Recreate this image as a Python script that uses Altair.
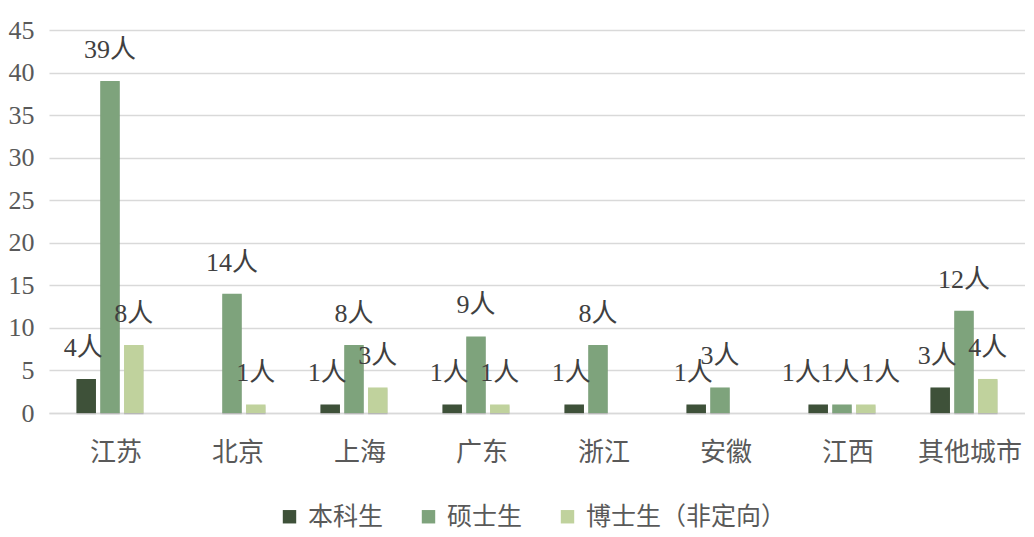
import altair as alt
import pandas as pd

cities = ["江苏", "北京", "上海", "广东", "浙江", "安徽", "江西", "其他城市"]
series = ["本科生", "硕士生", "博士生（非定向）"]
undergrad = [4, 0, 1, 1, 1, 1, 1, 3]
master = [39, 14, 8, 9, 8, 3, 1, 12]
phd = [8, 1, 3, 1, 0, 0, 1, 4]
colors = ["#3e5139", "#7ea37c", "#c0d29d"]

rows = []
for s, vals in zip(series, [undergrad, master, phd]):
    for c, v in zip(cities, vals):
        rows.append({"city": c, "series": s, "value": v, "label": f"{v}人"})
df = pd.DataFrame(rows)

FONT = "Liberation Serif, Noto Sans CJK SC"

x = alt.X("city:N", sort=cities, title=None,
          scale=alt.Scale(paddingInner=0.45, paddingOuter=0.225),
          axis=alt.Axis(labelAngle=0, ticks=False, domain=True, domainColor="#d9d9d9",
                        domainWidth=1.5, labelPadding=26, labelOffset=6))
xo = alt.XOffset("series:N", sort=series, scale=alt.Scale(paddingInner=0.18))
y = alt.Y("value:Q", title=None,
          scale=alt.Scale(domain=[0, 45], nice=False),
          axis=alt.Axis(values=list(range(0, 50, 5)), ticks=False, domain=False,
                        labelPadding=15, gridColor="#d9d9d9", gridWidth=1.5))

base = alt.Chart(df).transform_filter("datum.value > 0")

shadow1 = base.mark_bar(color="#000000", opacity=0.10, xOffset=2, yOffset=1).encode(x=x, xOffset=xo, y=y)
shadow2 = base.mark_bar(color="#000000", opacity=0.06, xOffset=4, yOffset=2).encode(x=x, xOffset=xo, y=y)

bars = base.mark_bar().encode(
    x=x, xOffset=xo, y=y,
    color=alt.Color("series:N", sort=series,
                    scale=alt.Scale(domain=series, range=colors),
                    legend=alt.Legend(title=None, orient="none", direction="horizontal",
                                      legendX=228, legendY=474,
                                      symbolType="square", symbolSize=180, symbolStrokeWidth=0,
                                      labelFontSize=25, labelFont=FONT, labelColor="#595959",
                                      labelLimit=0, columnPadding=32, labelOffset=6)),
)


def label_layer(filt, dx):
    return base.transform_filter(filt).mark_text(
        fontSize=26, font=FONT, color="#404040", baseline="middle", dy=-31, dx=dx
    ).encode(x=x, xOffset=xo, y=y, text="label:N")


crowded = "datum.city === '江西'"
texts = [
    label_layer(f"!({crowded}) && datum.series === '{series[0]}'", -3),
    label_layer(f"!({crowded}) && datum.series !== '{series[0]}'", 0),
    label_layer(f"({crowded}) && datum.series === '{series[0]}'", -17),
    label_layer(f"({crowded}) && datum.series === '{series[1]}'", -2),
    label_layer(f"({crowded}) && datum.series === '{series[2]}'", 15),
]

chart = alt.layer(shadow2, shadow1, bars, *texts).properties(
    width=976, height=383,
    padding={"left": 0, "top": 9, "right": 0, "bottom": 0},
).configure_axis(
    labelFont=FONT, labelFontSize=26, labelColor="#595959"
).configure_view(stroke=None)

chart.save("out.html", embed_options={"renderer": "svg", "actions": False})
